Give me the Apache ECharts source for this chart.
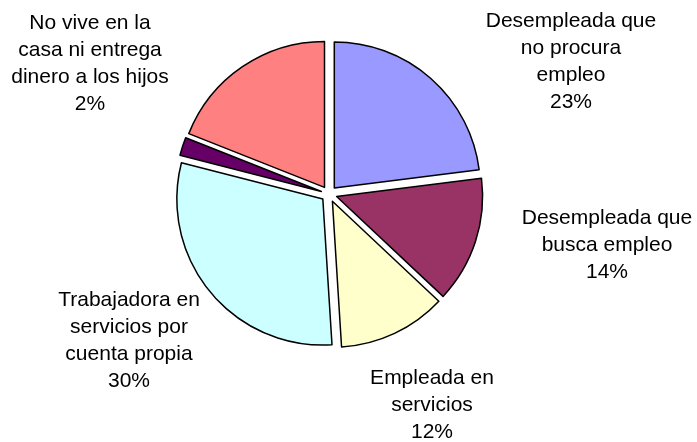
<!DOCTYPE html>
<html>
<head>
<meta charset="utf-8">
<script src="https://cdn.jsdelivr.net/npm/echarts@6/dist/echarts.min.js"></script>
<style>
  html, body { margin: 0; padding: 0; background: #fff; }
  #chart { width: 697px; height: 442px; }
</style>
</head>
<body>
<div id="chart"></div>
<script>
// data, clockwise from 12 o'clock
const categories = [
    'Desempleada que\nno procura\nempleo',
    'Desempleada que\nbusca empleo',
    'Empleada en\nservicios',
    'Trabajadora en\nservicios por\ncuenta propia',
    'No vive en la\ncasa ni entrega\ndinero a los hijos',
    'Otra'
];
const values = [23, 14, 12, 30, 2, 19];
const showLabel = [true, true, true, true, true, false];

const colors = ['#9999FF', '#993366', '#FFFFCC', '#CCFFFF', '#660066', '#FF8080'];

// centre of each label block (layout only)
const labelPos = [
    [571, 62],
    [607, 245],
    [432, 405],
    [129, 341],
    [90, 64],
    [0, 0]
];

const LINE_H = 27;

let chartDom = document.getElementById('chart');
let myChart = echarts.init(chartDom);

let data = [];
let titles = [];
for (let i = 0; i < values.length; i++) {
    data.push({
        name: categories[i],
        value: values[i],
        selected: true,
        itemStyle: { color: colors[i] }
    });

    if (!showLabel[i]) continue;
    let text = categories[i] + '\n' + values[i] + '%';
    let nLines = text.split('\n').length;
    titles.push({
        text: text,
        left: labelPos[i][0],
        top: labelPos[i][1] - nLines * LINE_H / 2,
        textAlign: 'center',
        padding: 0,
        textStyle: {
            fontFamily: 'Liberation Sans, Arial, sans-serif',
            fontSize: 21,
            fontWeight: 'normal',
            lineHeight: LINE_H,
            color: '#000'
        }
    });
}

let option = {
    animation: false,
    title: titles,
    series: [
        {
            type: 'pie',
            center: [329, 194],
            radius: [0, 146],
            startAngle: 90,
            clockwise: true,
            selectedMode: 'multiple',
            selectedOffset: 8,
            itemStyle: {
                borderColor: '#000',
                borderWidth: 1.5
            },
            emphasis: { disabled: true },
            label: { show: false },
            labelLine: { show: false },
            data
        }
    ]
};

option && myChart.setOption(option);
</script>
</body>
</html>
